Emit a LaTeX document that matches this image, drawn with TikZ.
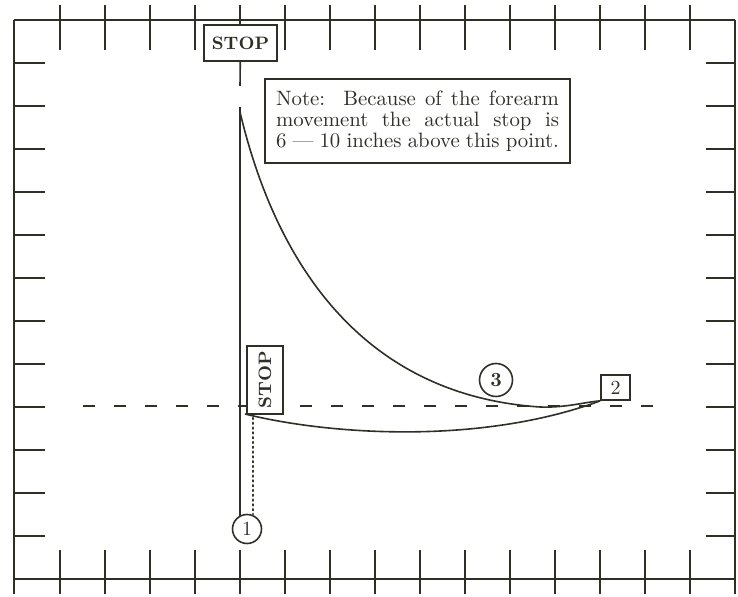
\documentclass[tikz,border=0pt]{standalone}
\usepackage{tikz}
\definecolor{ink}{RGB}{46,48,38}

\begin{document}
\begin{tikzpicture}[x=0.5pt,y=-0.5pt,line width=0.8pt,draw=ink,text=ink,
    signbox/.style={draw=ink,fill=white,line width=0.9pt,inner sep=0pt,font=\small\bfseries},
    numring/.style={circle,draw=ink,fill=white,line width=0.8pt,inner sep=0pt}]
  \useasboundingbox (0,0) rectangle (738,597);
  % frame with ticks
  \draw[line width=1pt] (14,20) -- (735,20) (14,579) -- (735,579)
    (14,20) -- (14,594) (735,20) -- (735,594);
  \foreach \i in {0,...,14} {
    \draw[line width=1pt] (60+45*\i,5) -- (60+45*\i,50);
    \draw[line width=1pt] (60+45*\i,550) -- (60+45*\i,594);
  }
  \foreach \j in {0,...,11} {
    \draw (14,63+43*\j) -- (45,63+43*\j);
    \draw (706,63+43*\j) -- (735,63+43*\j);
  }
  \draw[line width=0.6pt,dash pattern=on 6pt off 9.5pt] (83,406) -- (668,406);

  \node[signbox,minimum width=36.5pt,minimum height=18pt] (stoptop) at (240.5,43) {STOP};
  \node[signbox,rotate=90,minimum width=34pt,minimum height=18pt] (stopside) at (265,380) {STOP};
  \node[signbox,font=\normalsize,minimum width=14.5pt,minimum height=12.5pt] (two) at (615.5,387.5) {2};
  \node[numring,minimum size=14.5pt,font=\normalsize] (one) at (247,529) {1};
  \node[numring,minimum size=16.5pt,font=\normalsize\bfseries] (three) at (496,380) {3};
  \node[draw=ink,line width=0.9pt,inner sep=0pt,minimum width=152.5pt,minimum height=42pt] (note) at (417.5,121)
    {\parbox{141.5pt}{\fontsize{10.4}{10.6}\selectfont Note:\ \ Because of the forearm\linebreak
      movement the actual stop is\linebreak 6 --- 10 inches above this point.}};

  \coordinate (gapend) at (240,86);
  \coordinate (armtop) at (240,107);
  \coordinate (armfoot) at (240,516);
  \coordinate (swing) at (240,112);
  \coordinate (lowstart) at (245,414);
  \coordinate (dotfoot) at (253,514);
  \coordinate (dothead) at (253,418);

  \draw (stoptop) -- (gapend);
  \draw (armtop) -- (armfoot);
  \draw[line width=1.3pt,dash pattern=on 0.5pt off 1.9pt,line cap=round] (dothead) -- (dotfoot);
  \draw (swing) .. controls (275,260) and (360,395) .. (540,407)
    .. controls (565,408) and (585,402) .. (two.south west);
  \draw (lowstart) .. controls (330,435) and (480,445) .. (two.south west);
\end{tikzpicture}
\end{document}
